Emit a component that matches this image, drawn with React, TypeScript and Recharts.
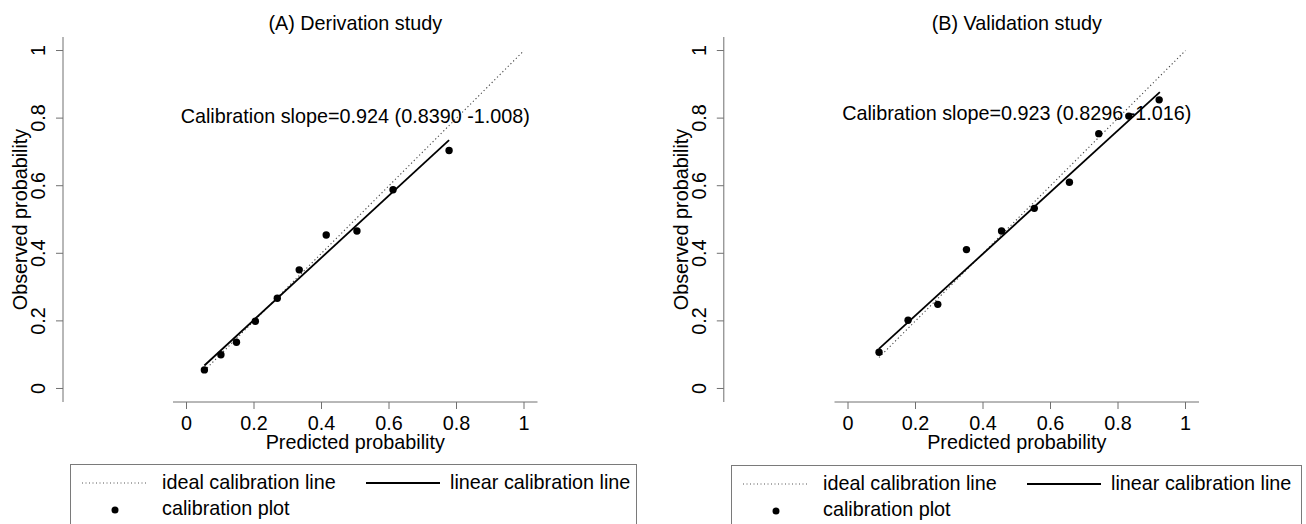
import React from 'react';
import { ComposedChart, Scatter, XAxis, YAxis, ReferenceDot } from 'recharts';

const ticks = [0, 0.2, 0.4, 0.6, 0.8, 1];

// (A) derivation study
const derivPredicted = [0.053, 0.102, 0.148, 0.204, 0.269, 0.334, 0.414, 0.505, 0.612, 0.778];
const derivObserved = [0.055, 0.1, 0.137, 0.199, 0.267, 0.351, 0.454, 0.466, 0.588, 0.704];
const derivIdeal = [{ x: 0.053, y: 0.053 }, { x: 1, y: 1 }];
const derivLinear = [{ x: 0.053, y: 0.068 }, { x: 0.778, y: 0.735 }];
const derivSlopeText = 'Calibration slope=0.924 (0.8390 -1.008)';

// (B) validation study
const validPredicted = [0.092, 0.178, 0.266, 0.351, 0.455, 0.552, 0.656, 0.743, 0.832, 0.922];
const validObserved = [0.107, 0.202, 0.249, 0.411, 0.466, 0.533, 0.61, 0.754, 0.806, 0.854];
const validIdeal = [{ x: 0.092, y: 0.092 }, { x: 1, y: 1 }];
const validLinear = [{ x: 0.0915, y: 0.117 }, { x: 0.924, y: 0.877 }];
const validSlopeText = 'Calibration slope=0.923 (0.8296 -1.016)';

const FONT = '"Liberation Sans", Arial, sans-serif';
const FS = 19.8;
const AXIS = '#707070';
const CHART_W = 653;
const CHART_H = 460;

const noShape = () => <g />;

const makeYTick = (axisX: number) => (props: any) => {
  const { y, payload } = props;
  return (
    <g>
      <line x1={axisX - 7} x2={axisX} y1={y} y2={y} stroke={AXIS} />
      <text
        transform={`translate(${axisX - 18},${y}) rotate(-90)`}
        textAnchor="middle"
        fontSize={FS}
        fill="#000"
      >
        {payload.value}
      </text>
    </g>
  );
};

interface PanelProps {
  left: number;
  marginLeft: number;
  axisW: number;
  marginRight: number;
  title: string;
  predicted: number[];
  observed: number[];
  ideal: { x: number; y: number }[];
  linear: { x: number; y: number }[];
  slopeText: string;
  slopeY: number;
}

function Panel(p: PanelProps) {
  const points = p.predicted.map((x, i) => ({ x, y: p.observed[i] }));
  const plotW = CHART_W - p.marginLeft - p.axisW - p.marginRight;
  return (
    <div style={{ position: 'absolute', left: p.left, top: 0, width: CHART_W, height: CHART_H }}>
      <div
        style={{
          position: 'absolute',
          left: p.marginLeft + p.axisW,
          width: plotW,
          top: 12,
          textAlign: 'center',
          fontSize: FS,
          lineHeight: '22px',
          color: '#000',
          whiteSpace: 'nowrap',
        }}
      >
        {p.title}
      </div>
      <ComposedChart
        width={CHART_W}
        height={CHART_H}
        margin={{ top: 37, right: p.marginRight, bottom: 8, left: p.marginLeft }}
        style={{ position: 'absolute', left: 0, top: 0 }}
      >
        <XAxis
          type="number"
          dataKey="x"
          domain={[-0.04, 1.04]}
          ticks={ticks}
          allowDataOverflow
          height={50}
          tickSize={7}
          tickMargin={7}
          stroke={AXIS}
          tick={{ fill: '#000', fontSize: FS }}
          label={{
            content: (lp: any) => (
              <text
                x={lp.viewBox.x + lp.viewBox.width / 2}
                y={lp.viewBox.y + 47}
                textAnchor="middle"
                fontSize={FS}
                fill="#000"
              >
                Predicted probability
              </text>
            ),
          }}
        />
        <YAxis
          type="number"
          dataKey="y"
          domain={[-0.04, 1.04]}
          ticks={ticks}
          allowDataOverflow
          width={p.axisW}
          tickLine={false}
          axisLine={{ stroke: AXIS, transform: `translate(${-p.axisW},0)` }}
          tick={makeYTick(p.marginLeft)}
          label={{
            content: (lp: any) => (
              <text
                transform={`translate(${p.marginLeft - 36},${lp.viewBox.y + lp.viewBox.height / 2}) rotate(-90)`}
                textAnchor="middle"
                fontSize={FS}
                fill="#000"
              >
                Observed probability
              </text>
            ),
          }}
        />
        <ReferenceDot
          x={0.5}
          y={p.slopeY}
          r={0}
          fill="none"
          stroke="none"
          label={{ value: p.slopeText, position: 'center', fontSize: FS, fill: '#000' }}
        />
        <Scatter
          name="ideal calibration line"
          data={p.ideal}
          line={{ stroke: '#444', strokeWidth: 1.1, strokeDasharray: '1.2 2.6' }}
          shape={noShape}
          isAnimationActive={false}
        />
        <Scatter
          name="linear calibration line"
          data={p.linear}
          line={{ stroke: '#000', strokeWidth: 1.8 }}
          shape={noShape}
          isAnimationActive={false}
        />
        <Scatter
          name="calibration plot"
          data={points}
          fill="#000"
          shape={(sp: any) => <circle cx={sp.cx} cy={sp.cy} r={3.7} fill="#000" />}
          isAnimationActive={false}
        />
      </ComposedChart>
    </div>
  );
}

function CalLegend({ left, top, width }: { left: number; top: number; width: number }) {
  return (
    <div
      style={{
        position: 'absolute',
        left,
        top,
        width,
        height: 80,
        border: '1px solid #7a7a7a',
        boxSizing: 'border-box',
      }}
    >
      <svg width={width} height={80} style={{ position: 'absolute', left: -1, top: -1 }}>
        <line x1={12} x2={77} y1={19} y2={19} stroke="#555" strokeDasharray="1 2.5" />
        <text x={92} y={25} fontSize={FS} fill="#000">ideal calibration line</text>
        <line x1={296} x2={370} y1={19} y2={19} stroke="#000" strokeWidth={1.8} />
        <text x={380} y={25} fontSize={FS} fill="#000">linear calibration line</text>
        <circle cx={45} cy={46} r={3.5} fill="#000" />
        <text x={92} y={51} fontSize={FS} fill="#000">calibration plot</text>
      </svg>
    </div>
  );
}

export default function App() {
  return (
    <div
      style={{
        position: 'absolute',
        left: 0,
        top: 0,
        width: 1306,
        height: 524,
        overflow: 'hidden',
        background: '#fff',
        fontFamily: FONT,
      }}
    >
      <Panel
        left={0}
        marginLeft={63}
        axisW={110}
        marginRight={115.5}
        title="(A) Derivation study"
        predicted={derivPredicted}
        observed={derivObserved}
        ideal={derivIdeal}
        linear={derivLinear}
        slopeText={derivSlopeText}
        slopeY={0.806}
      />
      <Panel
        left={653}
        marginLeft={70.8}
        axisW={110.7}
        marginRight={107}
        title="(B) Validation study"
        predicted={validPredicted}
        observed={validObserved}
        ideal={validIdeal}
        linear={validLinear}
        slopeText={validSlopeText}
        slopeY={0.816}
      />
      <CalLegend left={70} top={464} width={567} />
      <CalLegend left={731} top={465} width={571} />
    </div>
  );
}
